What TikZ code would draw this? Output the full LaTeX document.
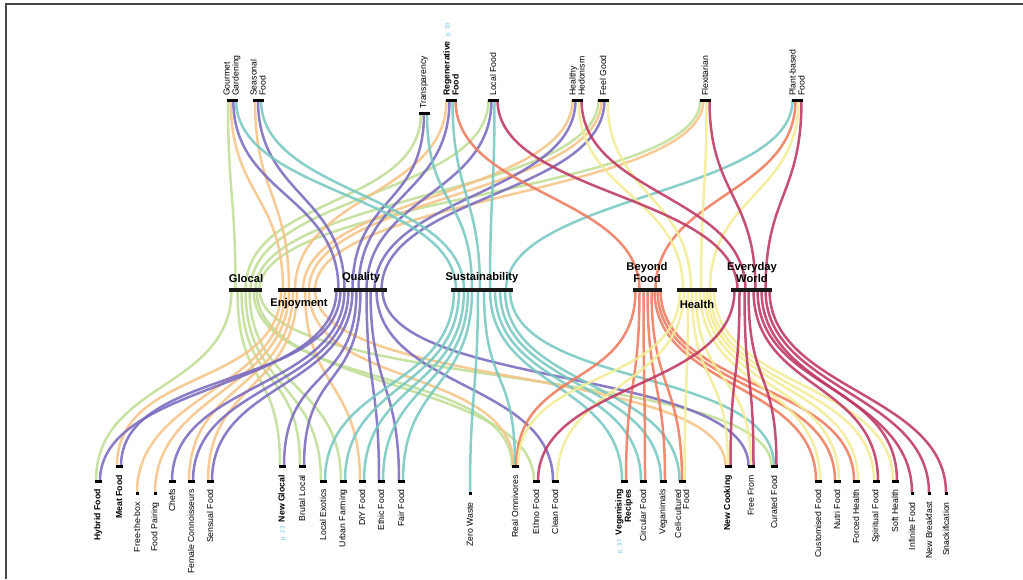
\documentclass[tikz,border=0pt]{standalone}
\usepackage{fontspec}
\setmainfont{Liberation Sans}
\usetikzlibrary{calc,backgrounds}

\definecolor{cglo}{RGB}{192,222,150}
\definecolor{cenj}{RGB}{246,196,136}
\definecolor{cqua}{RGB}{122,106,190}
\definecolor{csus}{RGB}{118,200,192}
\definecolor{cbey}{RGB}{238,122,92}
\definecolor{chea}{RGB}{242,236,150}
\definecolor{ceve}{RGB}{190,56,98}
\definecolor{cpage}{RGB}{110,190,235}
\definecolor{cframe}{RGB}{70,70,70}

\tikzset{
  flow/.style={line width=2.5pt, opacity=0.88, line cap=butt},
  topbar/.style={fill=black, inner sep=0pt, minimum width=11pt, minimum height=3pt},
  midbar/.style={fill=black!90, inner sep=0pt, minimum height=3.5pt},
  botbar/.style={fill=black, inner sep=0pt, minimum width=7pt, minimum height=3pt},
  botdot/.style={fill=black, inner sep=0pt, minimum width=3pt, minimum height=3pt},
  toplab/.style={rotate=90, anchor=west, align=left, inner sep=0pt,
                 font=\fontsize{8.7}{9}\selectfont},
  botlab/.style={rotate=90, anchor=east, align=right, inner sep=0pt,
                 font=\fontsize{8.7}{8}\selectfont},
  midlab/.style={align=center, inner sep=0pt,
                 font=\fontsize{11.2}{12}\selectfont\bfseries}
}

% curve from a top trend to a category bar, and from a category bar to a micro trend
\newcommand\toplink[5]{\draw[flow,#1] ($(#2)+(#3,0)$) .. controls +(0,95) and +(0,-95) .. ($(#4)+(#5,0)$);}
\newcommand\botlink[5]{\draw[flow,#1] ($(#2)+(#3,0)$) .. controls +(0,100) and +(0,-100) .. ($(#4)+(#5,0)$);}
\newcommand\pg[1]{{\color{cpage}\fontsize{6}{6}\selectfont\mdseries #1}}

\begin{document}
\begin{tikzpicture}[x=1pt,y=-1pt]
\useasboundingbox (0,0) rectangle (1023,579);

% card frame
\draw[cframe, line width=1.6pt] (6,579) -- (6,4) -- (1023,4);

% ---------- top trends ----------
\node[topbar] (gg) at (232,100) {};
\node[topbar] (sf) at (258,100) {};
\node[topbar] (tr) at (424,113) {};
\node[topbar] (rf) at (451,100) {};
\node[topbar] (lf) at (493,100) {};
\node[topbar] (hh) at (577,100) {};
\node[topbar] (fg) at (603,100) {};
\node[topbar] (fx) at (705,100) {};
\node[topbar] (pb) at (797,100) {};

\node[toplab] (gg-t) at (232,96) {Gourmet\\Gardening};
\node[toplab] (sf-t) at (258,96) {Seasonal\\Food};
\node[toplab] (tr-t) at (424,109) {Transparency};
\node[toplab] (rf-t) at (451,96) {\textbf{Regenerative}\enspace\pg{p. 33}\\\textbf{Food}};
\node[toplab] (lf-t) at (493,96) {Local Food};
\node[toplab] (hh-t) at (577,96) {Healthy\\Hedonism};
\node[toplab] (fg-t) at (603,96) {Feel Good};
\node[toplab] (fx-t) at (705,96) {Flexitarian};
\node[toplab] (pb-t) at (797,96) {Plant-based\\Food};

% ---------- categories ----------
\node[midbar, minimum width=33pt] (glo) at (245.5,290) {};
\node[midbar, minimum width=43pt] (enj) at (299,290) {};
\node[midbar, minimum width=53pt] (qua) at (360.5,290) {};
\node[midbar, minimum width=62pt] (sus) at (482,290) {};
\node[midbar, minimum width=29pt] (bey) at (647.5,290) {};
\node[midbar, minimum width=40pt] (hea) at (697,290) {};
\node[midbar, minimum width=41pt] (eve) at (751.5,290) {};

\node[midlab] (glo-t) at (246,278) {Glocal};
\node[midlab] (enj-t) at (299,304) {Enjoyment};
\node[midlab] (qua-t) at (361,278) {Quality};
\node[midlab] (sus-t) at (482,278) {Sustainability};
\node[midlab] (bey-t) at (647,272) {Beyond\\Food};
\node[midlab] (hea-t) at (697,304) {Health};
\node[midlab] (eve-t) at (752,272) {Everyday\\World};

% ---------- micro trends ----------
\node[botbar] (hyb) at (98,481) {};
\node[botbar] (meat) at (119,466) {};
\node[botdot] (ftb) at (137,493) {};
\node[botdot] (fpa) at (155,493) {};
\node[botbar] (chefs) at (172,481) {};
\node[botbar] (fcn) at (191,481) {};
\node[botbar] (sen) at (210,481) {};
\node[botbar] (ngl) at (282,466) {};
\node[botbar] (brl) at (302,466) {};
\node[botbar] (lex) at (323,481) {};
\node[botbar] (urb) at (343,481) {};
\node[botbar] (diy) at (362,481) {};
\node[botbar] (eth) at (381,481) {};
\node[botbar] (fair) at (401,481) {};
\node[botdot] (zw) at (470,493) {};
\node[botbar] (rom) at (515,466) {};
\node[botbar] (ethno) at (536,481) {};
\node[botbar] (clean) at (555,481) {};
\node[botbar] (veg) at (624,481) {};
\node[botbar] (circ) at (643,481) {};
\node[botbar] (vgn) at (663,481) {};
\node[botbar] (cell) at (682,481) {};
\node[botbar] (ncook) at (728,466) {};
\node[botbar] (ffrom) at (751,466) {};
\node[botbar] (cur) at (774,466) {};
\node[botbar] (cust) at (818,481) {};
\node[botbar] (nutri) at (837,481) {};
\node[botbar] (forced) at (856,481) {};
\node[botbar] (spir) at (876,481) {};
\node[botbar] (soft) at (895,481) {};
\node[botdot] (inf) at (912,493) {};
\node[botdot] (nbr) at (929,493) {};
\node[botdot] (snack) at (946,493) {};

\node[botlab] (hyb-t) at (98,489) {\textbf{Hybrid Food}};
\node[botlab] (meat-t) at (119,475) {\textbf{Meat Food}};
\node[botlab] (ftb-t) at (137,502) {Free-the-box};
\node[botlab] (fpa-t) at (155,502) {Food Pairing};
\node[botlab] (chefs-t) at (172,489) {Chefs};
\node[botlab] (fcn-t) at (191,489) {Female Connoisseurs};
\node[botlab] (sen-t) at (210,489) {Sensual Food};
\node[botlab] (ngl-t) at (282,475) {\pg{p. 23}\enspace\textbf{New Glocal}};
\node[botlab] (brl-t) at (302,475) {Brutal Local};
\node[botlab] (lex-t) at (323,489) {Local Exotics};
\node[botlab] (urb-t) at (343,489) {Urban Farming};
\node[botlab] (diy-t) at (362,489) {DIY Food};
\node[botlab] (eth-t) at (381,489) {Ethic Food};
\node[botlab] (fair-t) at (401,489) {Fair Food};
\node[botlab] (zw-t) at (470,502) {Zero Waste};
\node[botlab] (rom-t) at (515,475) {Real Omnivores};
\node[botlab] (ethno-t) at (536,489) {Ethno Food};
\node[botlab] (clean-t) at (555,489) {Clean Food};
\node[botlab] (veg-t) at (624,489) {\pg{p. 37}\enspace\textbf{Vegenising}\\\textbf{Recipes}};
\node[botlab] (circ-t) at (643,489) {Circular Food};
\node[botlab] (vgn-t) at (663,489) {Veganimals};
\node[botlab] (cell-t) at (682,489) {Cell-cultured\\Food};
\node[botlab] (ncook-t) at (728,475) {\textbf{New Cooking}};
\node[botlab] (ffrom-t) at (751,475) {Free From};
\node[botlab] (cur-t) at (774,475) {Curated Food};
\node[botlab] (cust-t) at (818,489) {Customised Food};
\node[botlab] (nutri-t) at (837,489) {Nutri Food};
\node[botlab] (forced-t) at (856,489) {Forced Health};
\node[botlab] (spir-t) at (876,489) {Spiritual Food};
\node[botlab] (soft-t) at (895,489) {Soft Health};
\node[botlab] (inf-t) at (912,502) {Infinite Food};
\node[botlab] (nbr-t) at (929,502) {New Breakfast};
\node[botlab] (snack-t) at (946,502) {Snackification};

% ---------- flows ----------
\begin{scope}[on background layer]
% top trends -> categories
\toplink{cglo}{gg}{-4}{glo}{-10}
\toplink{cglo}{tr}{-3}{glo}{0}
\toplink{cglo}{lf}{-4.5}{glo}{5}
\toplink{cglo}{fg}{-4.5}{glo}{10}
\toplink{cglo}{fx}{-4.5}{glo}{14}

\toplink{cenj}{gg}{-1.3}{enj}{-16}
\toplink{cenj}{sf}{-3}{enj}{-10}
\toplink{cenj}{rf}{-4.5}{enj}{-4}
\toplink{cenj}{hh}{-4.5}{enj}{4}
\toplink{cenj}{fg}{-1.5}{enj}{10}
\toplink{cenj}{fx}{-1.5}{enj}{16}

\toplink{cqua}{gg}{1.3}{qua}{-22}
\toplink{cqua}{sf}{0}{qua}{-16}
\toplink{cqua}{tr}{0}{qua}{-8}
\toplink{cqua}{rf}{-1.5}{qua}{-2}
\toplink{cqua}{lf}{-1.5}{qua}{6}
\toplink{cqua}{hh}{-1.5}{qua}{14}
\toplink{cqua}{fg}{1.5}{qua}{21}

\toplink{csus}{gg}{4}{sus}{-26}
\toplink{csus}{sf}{3}{sus}{-18}
\toplink{csus}{tr}{3}{sus}{-10}
\toplink{csus}{rf}{1.5}{sus}{-2}
\toplink{csus}{lf}{1.5}{sus}{8}
\toplink{csus}{pb}{-4.5}{sus}{24}

\toplink{cbey}{rf}{4.5}{bey}{-8}
\toplink{cbey}{pb}{-1.5}{bey}{8}

\toplink{chea}{hh}{1.5}{hea}{-14}
\toplink{chea}{fg}{4.5}{hea}{-6}
\toplink{chea}{fx}{1.5}{hea}{4}
\toplink{chea}{pb}{1.5}{hea}{13}

\toplink{ceve}{lf}{4.5}{eve}{-14}
\toplink{ceve}{hh}{4.5}{eve}{-6}
\toplink{ceve}{fx}{4.5}{eve}{4}
\toplink{ceve}{pb}{4.5}{eve}{14}

% categories -> micro trends
\botlink{cglo}{glo}{-14}{hyb}{-2}
\botlink{cglo}{glo}{-8}{ngl}{-2}
\botlink{cglo}{glo}{-4}{brl}{-2}
\botlink{cglo}{glo}{0}{lex}{-2}
\botlink{cglo}{glo}{4}{urb}{-2}
\botlink{cglo}{glo}{8}{rom}{-3}
\botlink{cglo}{glo}{11}{ethno}{-2}
\botlink{cglo}{glo}{14}{cur}{-2.5}

\botlink{cenj}{enj}{-18}{meat}{-2}
\botlink{cenj}{enj}{-14}{ftb}{0}
\botlink{cenj}{enj}{-10}{fpa}{0}
\botlink{cenj}{enj}{-6}{fcn}{-2}
\botlink{cenj}{enj}{-2}{sen}{-2}
\botlink{cenj}{enj}{6}{diy}{-2}
\botlink{cenj}{enj}{10}{rom}{-1.5}
\botlink{cenj}{enj}{16}{ncook}{-2.5}

\botlink{cqua}{qua}{-24}{hyb}{2}
\botlink{cqua}{qua}{-20}{meat}{2}
\botlink{cqua}{qua}{-16}{chefs}{0}
\botlink{cqua}{qua}{-12}{fcn}{2}
\botlink{cqua}{qua}{-8}{sen}{2}
\botlink{cqua}{qua}{-4}{ngl}{2}
\botlink{cqua}{qua}{0}{brl}{2}
\botlink{cqua}{qua}{6}{eth}{-2}
\botlink{cqua}{qua}{10}{fair}{-2}
\botlink{cqua}{qua}{16}{clean}{-2}
\botlink{cqua}{qua}{22}{ffrom}{-2.5}

\botlink{csus}{sus}{-28}{lex}{2}
\botlink{csus}{sus}{-23}{urb}{2}
\botlink{csus}{sus}{-18}{diy}{2}
\botlink{csus}{sus}{-14}{eth}{2}
\botlink{csus}{sus}{-10}{fair}{2}
\botlink{csus}{sus}{-4}{zw}{0}
\botlink{csus}{sus}{2}{rom}{0}
\botlink{csus}{sus}{8}{veg}{-2}
\botlink{csus}{sus}{13}{circ}{-2}
\botlink{csus}{sus}{18}{vgn}{-2}
\botlink{csus}{sus}{23}{cell}{-2.5}
\botlink{csus}{sus}{28}{cur}{0}

\botlink{cbey}{bey}{-12}{rom}{1.5}
\botlink{cbey}{bey}{-8}{veg}{2}
\botlink{cbey}{bey}{-4}{circ}{2}
\botlink{cbey}{bey}{0}{vgn}{2}
\botlink{cbey}{bey}{4}{cell}{0}
\botlink{cbey}{bey}{7}{cust}{-2}
\botlink{cbey}{bey}{10}{nutri}{-2}
\botlink{cbey}{bey}{13}{forced}{-2}

\botlink{chea}{hea}{-17}{rom}{3}
\botlink{chea}{hea}{-13}{clean}{2}
\botlink{chea}{hea}{-9}{cell}{2.5}
\botlink{chea}{hea}{-5}{ncook}{0}
\botlink{chea}{hea}{-1}{ffrom}{0}
\botlink{chea}{hea}{3}{cust}{2}
\botlink{chea}{hea}{7}{nutri}{2}
\botlink{chea}{hea}{10}{forced}{2}
\botlink{chea}{hea}{13}{spir}{-2}
\botlink{chea}{hea}{17}{soft}{-2}

\botlink{ceve}{eve}{-17}{ethno}{2}
\botlink{ceve}{eve}{-12}{ncook}{2.5}
\botlink{ceve}{eve}{-7}{ffrom}{2.5}
\botlink{ceve}{eve}{-3}{cur}{2.5}
\botlink{ceve}{eve}{2}{spir}{2}
\botlink{ceve}{eve}{6}{soft}{2}
\botlink{ceve}{eve}{10}{inf}{0}
\botlink{ceve}{eve}{14}{nbr}{0}
\botlink{ceve}{eve}{18}{snack}{0}
\end{scope}
\end{tikzpicture}
\end{document}
